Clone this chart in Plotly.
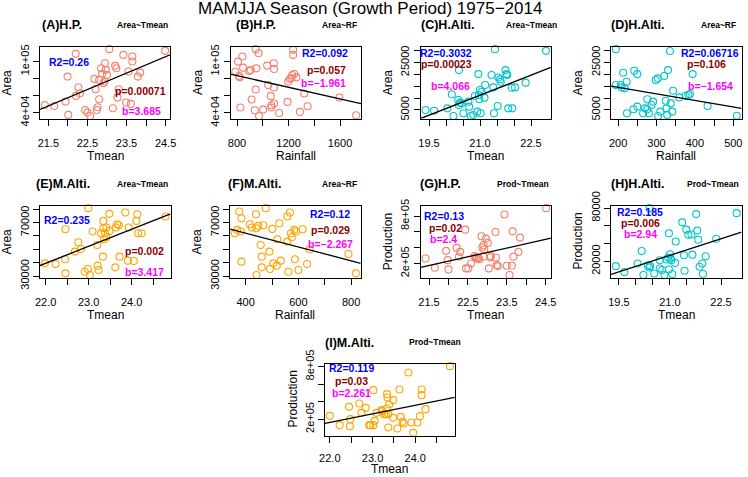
import numpy as np
import plotly.graph_objects as go

W, H = 748, 477
FONT = "Liberation Sans, Arial, Helvetica, sans-serif"

# ---------------- data ----------------
# (A) H.P. Area ~ Tmean
A_x = [21.41, 21.65, 21.94, 21.99, 22.01, 22.21, 22.27, 22.31, 22.20, 22.44, 22.50, 22.57, 22.68, 22.71,
       22.74, 22.76, 22.80, 22.80, 22.85, 22.88, 22.91, 22.94, 22.95, 22.97, 23.00, 23.06, 23.15, 23.21,
       23.24, 23.27, 23.30, 23.42, 23.49, 23.55, 23.61, 23.65, 23.65, 23.79, 23.85, 24.49]
A_y = [49000, 47800, 52900, 82300, 37300, 59600, 69800, 62700, 109000, 43100, 40000, 36100, 79600, 67400,
       43100, 46300, 55700, 78400, 92100, 85500, 74500, 76500, 98000, 90200, 84300, 114500, 45100, 94900,
       92100, 57600, 67400, 107800, 51800, 88200, 50200, 105900, 100000, 82300, 87000, 112500]
# (B) H.P. Area ~ Rainfall
B_x = [787, 808, 816, 821, 826, 842, 847, 893, 906, 914, 938, 945, 945, 950, 968, 971, 1003, 1034, 1042,
       1062, 1067, 1067, 1086, 1086, 1088, 1088, 1127, 1192, 1197, 1210, 1223, 1228, 1236, 1236, 1244,
       1262, 1288, 1322, 1348, 1595, 1725]
B_y = [88200, 100000, 83100, 81600, 46300, 105900, 92900, 89000, 90200, 55700, 43100, 114500, 67400, 92100,
       109800, 36500, 43900, 95300, 72500, 59600, 46300, 49000, 69800, 98000, 91400, 51000, 40000, 52900,
       76500, 80000, 80400, 84300, 113700, 107800, 85500, 81600, 41200, 62700, 47800, 58000, 37300]
# (C) H.Alti. Area ~ Tmean
C_x = [19.40, 19.65, 20.04, 20.17, 20.22, 20.36, 20.38, 20.38, 20.41, 20.46, 20.51, 20.66, 20.68, 20.73,
       20.80, 20.85, 20.92, 20.95, 20.97, 20.98, 21.00, 21.02, 21.05, 21.13, 21.15, 21.34, 21.39, 21.41,
       21.44, 21.52, 21.54, 21.59, 21.61, 21.75, 21.78, 21.80, 21.83, 21.93, 21.95, 22.03, 22.34, 22.94]
C_y = [5000, 4700, 5700, 11600, 2500, 9200, 7100, 21800, 8100, 7800, 3600, 8500, 6400, 2500, 2900, 10900,
       4300, 20100, 11300, 9500, 13400, 3600, 12700, 10200, 15500, 19700, 14500, 3600, 30600, 6700, 18700,
       17900, 16900, 21800, 20100, 19700, 5700, 14400, 5700, 14500, 16500, 29900]
# (D) H.Alti. Area ~ Rainfall
D_x = [194, 194, 207, 209, 213, 217, 222, 223, 240, 242, 250, 250, 265, 270, 276, 276, 280, 287, 291, 298,
       303, 304, 310, 320, 324, 326, 328, 330, 335, 337, 341, 343, 359, 376, 383, 387, 394, 433, 509]
D_y = [30600, 15500, 15500, 14500, 20700, 14100, 16900, 3600, 5300, 21500, 20100, 6400, 3600, 5700, 9500,
       5300, 3600, 7100, 8500, 17600, 18300, 2500, 4300, 19300, 8900, 5700, 2900, 21800, 29800, 7800, 4300,
       13100, 10300, 11000, 11300, 11700, 20100, 6700, 2600]
# (E) M.Alti. Area ~ Tmean
E_x = [21.98, 22.23, 22.45, 22.46, 22.46, 22.68, 22.76, 22.82, 22.91, 22.98, 22.99, 23.03, 23.09, 23.20,
       23.21, 23.23, 23.29, 23.33, 23.34, 23.34, 23.36, 23.38, 23.41, 23.41, 23.48, 23.48, 23.62, 23.63,
       23.66, 23.70, 23.72, 23.85, 23.93, 23.91, 24.05, 24.11, 24.13, 24.15, 24.23, 24.79]
E_y = [39500, 39000, 42500, 65000, 32000, 48250, 55250, 50250, 33250, 35250, 80750, 30750, 63250, 53250,
       37750, 34500, 62000, 44500, 71250, 65750, 57500, 62000, 66250, 59000, 76500, 63750, 36500, 66250,
       68750, 68000, 44500, 77500, 66250, 41500, 41250, 71250, 76250, 62000, 62000, 74500]
# (F) M.Alti. Area ~ Rainfall
F_x = [359, 368, 376, 382, 384, 384, 416, 423, 439, 441, 448, 441, 457, 461, 461, 467, 476, 490, 492, 501,
       505, 518, 520, 528, 533, 558, 558, 562, 568, 572, 575, 584, 587, 591, 600, 616, 633, 643, 790, 818]
F_y = [62000, 64500, 78250, 63250, 73250, 40750, 68750, 66250, 76250, 65750, 67500, 30750, 53250, 44500,
       36500, 68000, 80750, 48250, 35250, 65250, 39500, 37750, 57500, 69500, 41500, 74500, 55750, 33250,
       77500, 62000, 59000, 64500, 42500, 63250, 34500, 65000, 39000, 50000, 46500, 32000]
# (G) H.P. Production ~ Tmean
G_x = [21.41, 21.65, 21.94, 21.98, 22.00, 22.21, 22.27, 22.30, 22.43, 22.45, 22.51, 22.58, 22.67, 22.70,
       22.73, 22.79, 22.85, 22.87, 22.90, 22.92, 22.96, 23.01, 23.04, 23.07, 23.21, 23.22, 23.24, 23.27,
       23.44, 23.50, 23.57, 23.63, 23.65, 23.67, 23.80, 23.84, 24.51, 23.09, 22.90, 22.77]
G_y = [262900, 145500, 359300, 241900, 124500, 397000, 283900, 346800, 627700, 137100, 137100, 200000,
       292200, 275500, 262900, 254500, 543800, 401300, 283900, 376100, 514500, 460000, 137100, 275500,
       598300, 275500, 179000, 166500, 820600, 170700, 53200, 170700, 606700, 283900, 346800, 527000,
       900000, 292200, 430600, 271300]
# (H) H.Alti. Production ~ Tmean
H_x = [19.41, 19.66, 20.05, 20.17, 20.22, 20.35, 20.39, 20.42, 20.40, 20.54, 20.70, 20.70, 20.77, 20.84,
       20.90, 20.95, 20.97, 20.97, 21.00, 21.02, 21.04, 21.07, 21.15, 21.17, 21.36, 21.41, 21.43, 21.48,
       21.54, 21.63, 21.66, 21.77, 21.80, 21.83, 21.87, 21.95, 21.97, 22.05, 22.36, 22.96]
H_y = [14400, 7700, 17400, 31500, 4400, 15500, 12900, 14400, 79900, 6200, 21100, 11800, 10000, 4400,
       21900, 24100, 10700, 51600, 27800, 23000, 21100, 5500, 18100, 42300, 63900, 26700, 9200, 55700,
       49800, 50100, 27400, 73200, 54600, 44200, 13700, 17400, 5500, 25600, 45300, 74300]
# (I) M.Alti. Production ~ Tmean
I_x = [22.00, 22.23, 22.45, 22.47, 22.48, 22.69, 22.74, 22.84, 22.92, 22.95, 23.02, 23.02, 23.05, 23.09,
       23.21, 23.23, 23.27, 23.31, 23.33, 23.34, 23.35, 23.37, 23.37, 23.39, 23.48, 23.48, 23.58, 23.63,
       23.66, 23.70, 23.73, 23.84, 23.91, 23.95, 24.05, 24.11, 24.15, 24.15, 24.24, 24.81]
I_y = [238100, 131400, 341000, 120000, 200000, 379100, 272400, 329500, 131400, 131400, 531500, 131400,
       181000, 272400, 302900, 291400, 257200, 257200, 321900, 485800, 447700, 257200, 104800, 367600,
       417200, 215200, 93300, 539100, 226700, 169500, 150500, 733400, 161900, 43800, 161900, 234300,
       539100, 474300, 314300, 805800]

# fitted regression lines, two points (x, y)
FIT_A = [(21.29, 43900), (24.51, 105900)]
FIT_B = [(743, 85500), (1756, 51000)]
FIT_C = [(19.27, 1500), (23.06, 22800)]
FIT_D = [(181, 15100), (522, 5700)]
FIT_E = [(21.86, 37750), (24.80, 75250)]
FIT_F = [(343, 65000), (837, 39500)]
FIT_G = [(21.27, 149700), (24.59, 514500)]
FIT_H = [(19.27, 5100), (23.09, 52700)]
FIT_I = [(21.87, 150500), (24.91, 447700)]

# tick values / labels
T_HP_x = [21.5, 22.0, 22.5, 23.0, 23.5, 24.0, 24.5]
L_HP_x = ["21.5", "", "22.5", "", "23.5", "", "24.5"]
T_HA_x = [19.5, 20.0, 20.5, 21.0, 21.5, 22.0, 22.5]
L_HA_x = ["19.5", "", "", "21.0", "", "", "22.5"]
T_MA_x = [22.0, 22.5, 23.0, 23.5, 24.0, 24.5]
L_MA_x = ["22.0", "", "23.0", "", "24.0", ""]
T_RF_B = [800, 1000, 1200, 1400, 1600]
L_RF_B = ["800", "", "1200", "", "1600"]
T_RF_D = [200, 250, 300, 350, 400, 450, 500]
L_RF_D = ["200", "", "300", "", "400", "", "500"]
T_RF_F = [400, 500, 600, 700, 800]
L_RF_F = ["400", "", "600", "", "800"]
T_area_HP = [40000, 60000, 80000, 100000]
L_area_HP = ["4e+04", "", "", "1e+05"]
T_area_HA = [5000, 10000, 15000, 20000, 25000, 30000]
L_area_HA = ["5000", "", "", "", "25000", ""]
T_area_MA = [30000, 40000, 50000, 60000, 70000, 80000]
L_area_MA = ["30000", "", "", "", "70000", ""]
T_prod = [200000, 400000, 600000, 800000]
L_prod = ["2e+05", "", "", "8e+05"]
T_prod_HA = [20000, 40000, 60000, 80000]
L_prod_HA = ["20000", "", "", "80000"]

stats_text = {
    "A": ["R2=0.26", "p=0.00071", "b=3.685"],
    "B": ["R2=0.092", "p=0.057", "b=\u22121.961"],
    "C": ["R2=0.3032", "p=0.00023", "b=4.066"],
    "D": ["R2=0.06716", "p=0.106", "b=\u22121.654"],
    "E": ["R2=0.235", "p=0.002", "b=3.417"],
    "F": ["R2=0.12", "p=0.029", "b=\u22122.267"],
    "G": ["R2=0.13", "p=0.02", "b=2.4"],
    "H": ["R2=0.185", "p=0.006", "b=2.94"],
    "I": ["R2=0.119", "p=0.03", "b=2.261"],
}

COL_HP = "#F4806C"
COL_HA = "#00C5CD"
COL_MA = "#FFA500"
STAT_COLS = ["#0000FF", "#8B0000", "#FF00FF"]

# ---------------- layout (pixel positions) ----------------
panels = [
    dict(k="A", x=A_x, y=A_y, fit=FIT_A, c=COL_HP, box=(40, 46.5, 170, 118.6), xt=(T_HP_x, L_HP_x), yt=(T_area_HP, L_area_HP),
         xlab="Tmean", ylab="Area", title="(A)H.P.", tpos=(61.7, 25), model="Area~Tmean", mpos=(142.3, 25),
         spos=[(69, 61.7), (140, 90.7), (141.7, 111)]),
    dict(k="B", x=B_x, y=B_y, fit=FIT_B, c=COL_HP, box=(230.5, 46.5, 361, 118.6), xt=(T_RF_B, L_RF_B), yt=(T_area_HP, L_area_HP),
         xlab="Rainfall", ylab="Area", title="(B)H.P.", tpos=(255.7, 25), model="Area~RF", mpos=(339, 25),
         spos=[(325, 52.7), (326, 70), (323.3, 83.3)]),
    dict(k="C", x=C_x, y=C_y, fit=FIT_C, c=COL_HA, box=(420.8, 46.5, 550.8, 118.6), xt=(T_HA_x, L_HA_x), yt=(T_area_HA, L_area_HA),
         xlab="Tmean", ylab="Area", title="(C)H.Alti.", tpos=(447.7, 25), model="Area~Tmean", mpos=(531, 25),
         spos=[(446, 53.3), (446, 64.3), (450, 86)]),
    dict(k="D", x=D_x, y=D_y, fit=FIT_D, c=COL_HA, box=(611, 46.5, 741.6, 118.6), xt=(T_RF_D, L_RF_D), yt=(T_area_HA, L_area_HA),
         xlab="Rainfall", ylab="Area", title="(D)H.Alti.", tpos=(637.3, 25), model="Area~RF", mpos=(718.3, 25),
         spos=[(710, 53.3), (706.7, 64.3), (710, 86)]),
    dict(k="E", x=E_x, y=E_y, fit=FIT_E, c=COL_MA, box=(40, 205.5, 170.5, 277.7), xt=(T_MA_x, L_MA_x), yt=(T_area_MA, L_area_MA),
         xlab="Tmean", ylab="Area", title="(E)M.Alti.", tpos=(63.3, 184), model="Area~Tmean", mpos=(142.7, 184),
         spos=[(66.7, 220), (144.3, 250.7), (144.3, 271.7)]),
    dict(k="F", x=F_x, y=F_y, fit=FIT_F, c=COL_MA, box=(230, 205.5, 360.7, 277.7), xt=(T_RF_F, L_RF_F), yt=(T_area_MA, L_area_MA),
         xlab="Rainfall", ylab="Area", title="(F)M.Alti.", tpos=(255, 184), model="Area~RF", mpos=(339, 184),
         spos=[(330, 214), (330, 230), (330, 244)]),
    dict(k="G", x=G_x, y=G_y, fit=FIT_G, c=COL_HP, box=(420.7, 205.5, 550.9, 277.7), xt=(T_HP_x, L_HP_x), yt=(T_prod, L_prod),
         xlab="Tmean", ylab="Production", title="(G)H.P.", tpos=(440, 184), model="Prod~Tmean", mpos=(523.3, 184),
         spos=[(444, 215.7), (445, 227.7), (443.3, 239.3)]),
    dict(k="H", x=H_x, y=H_y, fit=FIT_H, c=COL_HA, box=(611, 205.5, 741.5, 277.7), xt=(T_HA_x, L_HA_x), yt=(T_prod_HA, L_prod_HA),
         xlab="Tmean", ylab="Production", title="(H)H.Alti.", tpos=(637.3, 184), model="Prod~Tmean", mpos=(713.3, 184),
         spos=[(640, 212.3), (640, 223.3), (640, 234.3)]),
    dict(k="I", x=I_x, y=I_y, fit=FIT_I, c=COL_MA, box=(325, 363.5, 454.7, 435.5), xt=(T_MA_x, L_MA_x), yt=(T_prod, L_prod),
         xlab="Tmean", ylab="Production", title="(I)M.Alti.", tpos=(349, 343.3), model="Prod~Tmean", mpos=(435, 342),
         spos=[(351.7, 367.7), (351.7, 381), (351.7, 393.3)]),
]


def px(x):
    return x / W


def py(y):
    return 1 - y / H


def rrange(v):
    v = np.asarray(v, dtype=float)
    lo, hi = v.min(), v.max()
    d = (hi - lo) * 0.04
    return [lo - d, hi + d]


fig = go.Figure()
annotations = []
layout_axes = {}

for i, p in enumerate(panels, start=1):
    xs = "" if i == 1 else str(i)
    xa, ya = "x" + xs, "y" + xs
    l, t, r, b = p["box"]
    xr = rrange(p["x"])
    yr = rrange(p["y"])

    fig.add_trace(go.Scatter(
        x=p["x"], y=p["y"], mode="markers", xaxis=xa, yaxis=ya, showlegend=False,
        marker=dict(symbol="circle-open", size=7, color=p["c"], line=dict(width=1.1, color=p["c"])),
        cliponaxis=False,
    ))
    (fx0, fy0), (fx1, fy1) = p["fit"]
    slope = (fy1 - fy0) / (fx1 - fx0)
    fig.add_trace(go.Scatter(
        x=xr, y=[fy0 + slope * (xr[0] - fx0), fy0 + slope * (xr[1] - fx0)], mode="lines", xaxis=xa, yaxis=ya,
        showlegend=False, line=dict(color="black", width=1.3),
    ))

    common = dict(showline=True, mirror=True, linecolor="black", linewidth=1, ticks="outside", ticklen=6,
                  tickwidth=1, tickcolor="black", showgrid=False, zeroline=False,
                  tickfont=dict(family=FONT, size=11, color="black"))
    x_standoff = 8 if b < 400 else 6
    layout_axes["xaxis" + xs] = dict(common, domain=[px(l), px(r)], anchor=ya, range=xr,
                                     tickmode="array", tickvals=p["xt"][0], ticktext=p["xt"][1],
                                     ticklabelstandoff=x_standoff)
    layout_axes["yaxis" + xs] = dict(common, domain=[py(b), py(t)], anchor=xa, range=yr,
                                     tickmode="array", tickvals=p["yt"][0], ticktext=p["yt"][1],
                                     tickangle=-90, ticklabelstandoff=0)

    # axis titles
    if b < 400:
        annotations.append(dict(text=p["xlab"], x=px((l + r) / 2), y=py(b + 37), xref="paper", yref="paper",
                                showarrow=False, xanchor="center", yanchor="middle",
                                font=dict(family=FONT, size=12, color="black")))
    else:
        annotations.append(dict(text=p["xlab"], x=px((l + r) / 2), y=0, xref="paper", yref="paper",
                                showarrow=False, xanchor="center", yanchor="bottom", borderpad=0,
                                font=dict(family=FONT, size=12, color="black")))
    annotations.append(dict(text=p["ylab"], x=px(l - 33), y=py((t + b) / 2), xref="paper", yref="paper",
                            showarrow=False, xanchor="center", yanchor="middle", textangle=-90,
                            font=dict(family=FONT, size=12, color="black")))
    # panel titles
    annotations.append(dict(text="<b>" + p["title"] + "</b>", x=px(p["tpos"][0]), y=py(p["tpos"][1]),
                            xref="paper", yref="paper", showarrow=False, xanchor="center", yanchor="middle",
                            font=dict(family=FONT, size=12.5, color="black")))
    annotations.append(dict(text="<b>" + p["model"] + "</b>", x=px(p["mpos"][0]), y=py(p["mpos"][1]),
                            xref="paper", yref="paper", showarrow=False, xanchor="center", yanchor="middle",
                            font=dict(family=FONT, size=8.5, color="black")))
    for txt, pos, col in zip(stats_text[p["k"]], p["spos"], STAT_COLS):
        annotations.append(dict(text="<b>" + txt + "</b>", x=px(pos[0]), y=py(pos[1]),
                                xref="paper", yref="paper", showarrow=False, xanchor="center",
                                yanchor="middle", font=dict(family=FONT, size=10.5, color=col)))

annotations.append(dict(text="MAMJJA Season (Growth Period) 1975\u22122014", x=px(370), y=py(9),
                        xref="paper", yref="paper", showarrow=False, xanchor="center", yanchor="middle",
                        borderpad=0, font=dict(family=FONT, size=17, color="black")))

fig.update_layout(width=W, height=H, margin=dict(l=0, r=0, t=0, b=0, pad=0, autoexpand=False),
                  paper_bgcolor="white", plot_bgcolor="white", annotations=annotations, **layout_axes)

fig.write_html("out.html", config={"displayModeBar": False},
               post_script="document.body.style.margin='0';document.body.style.padding='0';")
